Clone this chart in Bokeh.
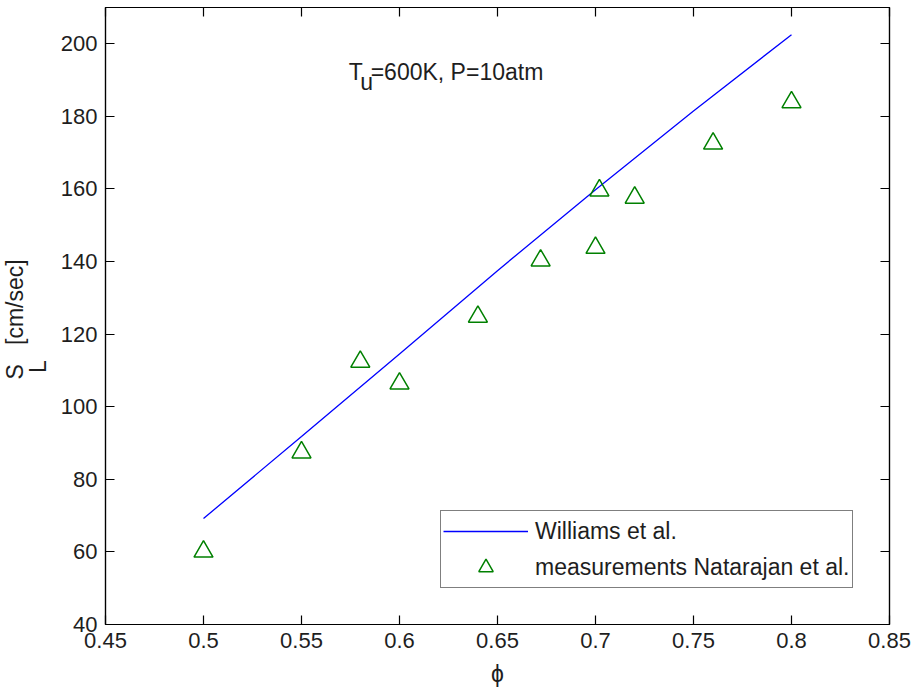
import math
from bokeh.plotting import figure
from bokeh.models import (ColumnDataSource, LinearAxis, FixedTicker, Label,
                          Legend, LegendItem, Range1d, Title)
from bokeh.embed import file_html
from bokeh.resources import INLINE

# ---- data ----
model_phi = [0.5, 0.55, 0.6, 0.65, 0.7, 0.75, 0.8]
model_sl = [69.2, 91.8, 114.5, 137.5, 159.8, 181.5, 202.5]

meas_phi = [0.5, 0.55, 0.58, 0.6, 0.64, 0.672, 0.70, 0.702, 0.72, 0.76, 0.80]
meas_sl = [60.1, 87.4, 112.4, 106.4, 124.8, 140.3, 143.8, 159.6, 157.6, 172.5, 183.9]

x_ticks = [0.45, 0.5, 0.55, 0.6, 0.65, 0.7, 0.75, 0.8, 0.85]
x_tick_labels = ["0.45", "0.5", "0.55", "0.6", "0.65", "0.7", "0.75", "0.8", "0.85"]
y_ticks = [40, 60, 80, 100, 120, 140, 160, 180, 200]
y_tick_labels = [str(v) for v in y_ticks]

FONT = "Liberation Sans"
FS = "22px"
FS2 = "23px"
TXT = "#1e1e1e"
NB = "\u00a0"

p = figure(width=915, height=695, output_backend="svg", toolbar_location=None,
           x_range=Range1d(0.45, 0.85), y_range=Range1d(40, 210),
           min_border_left=103, min_border_right=26, min_border_top=7,
           min_border_bottom=71, x_axis_location=None, y_axis_location=None)
p.grid.visible = False
p.outline_line_color = "black"
p.outline_line_width = 1.2
p.background_fill_color = "white"
p.border_fill_color = "white"

def style_axis(ax, ticks, labels, show_labels):
    ax.ticker = FixedTicker(ticks=ticks)
    ax.major_tick_in = 9
    ax.major_tick_out = 0
    ax.minor_tick_line_color = None
    ax.axis_line_color = "black"
    ax.axis_line_width = 1.2
    ax.major_tick_line_color = "black"
    ax.major_tick_line_width = 1.2
    ax.major_label_text_font = FONT
    if show_labels:
        ax.major_label_overrides = {t: l for t, l in zip(ticks, labels)}
        ax.major_label_text_color = TXT
        ax.major_label_text_font_size = FS
        ax.major_label_standoff = 8
    else:
        ax.major_label_text_color = None
        ax.major_label_standoff = 0

xb = LinearAxis()
style_axis(xb, x_ticks, x_tick_labels, True)
xb.axis_label = "ϕ"
xb.axis_label_text_font = FONT
xb.axis_label_text_font_size = FS2
xb.axis_label_text_font_style = "normal"
xb.axis_label_text_color = TXT
xb.axis_label_standoff = 10
p.add_layout(xb, "below")

xt = LinearAxis()
style_axis(xt, x_ticks, x_tick_labels, False)
p.add_layout(xt, "above")

yl = LinearAxis()
style_axis(yl, y_ticks, y_tick_labels, True)
# a leading no-break space on one label widens the axis panel slightly,
# leaving room between tick labels and the subscript of the axis title
yl.major_label_overrides = {**yl.major_label_overrides, 200: NB + "200"}
p.add_layout(yl, "left")

yr = LinearAxis()
style_axis(yr, y_ticks, y_tick_labels, False)
p.add_layout(yr, "right")

# y axis label S_L [cm/sec]: two-line side title, subscript on the inner line
t_y = Title(text="S" + NB * 3 + "[cm/sec]\n" + NB + "L", align="left",
            offset=245, text_font=FONT, text_font_size=FS2,
            text_font_style="normal", text_color=TXT, standoff=0,
            text_line_height=0.9)
p.add_layout(t_y, "left")

src_m = ColumnDataSource(dict(x=model_phi, y=model_sl))
src_d = ColumnDataSource(dict(x=meas_phi, y=meas_sl))

r_line = p.line("x", "y", source=src_m, line_color="#0000ff", line_width=1.3)
r_pts = p.scatter("x", "y", source=src_d, marker="triangle", size=19,
                  fill_color=None, line_color="#008000", line_width=1.5)

legend = Legend(items=[LegendItem(label="Williams et al.", renderers=[r_line]),
                       LegendItem(label="measurements Natarajan et al.", renderers=[r_pts])],
                location=(335, 36))
legend.label_text_font = FONT
legend.label_text_font_size = FS2
legend.label_text_color = TXT
legend.border_line_color = "black"
legend.border_line_width = 1.2
legend.background_fill_alpha = 1.0
legend.glyph_width = 85
legend.glyph_height = 36
legend.label_height = 36
legend.label_standoff = 7
legend.spacing = 0
legend.padding = 2
legend.margin = 0
p.add_layout(legend)

# annotation T_u=600K, P=10atm
ann_kw = dict(text_font=FONT, text_font_size=FS2, text_color=TXT,
              text_baseline="alphabetic", text_align="left")
p.add_layout(Label(x=0.5741, y=192.3, text="T", **ann_kw))
p.add_layout(Label(x=0.5800, y=189.4, text="u", **ann_kw))
p.add_layout(Label(x=0.5853, y=192.3, text="=600K, P=10atm", **ann_kw))

open("out.html", "w").write(file_html(p, INLINE))
